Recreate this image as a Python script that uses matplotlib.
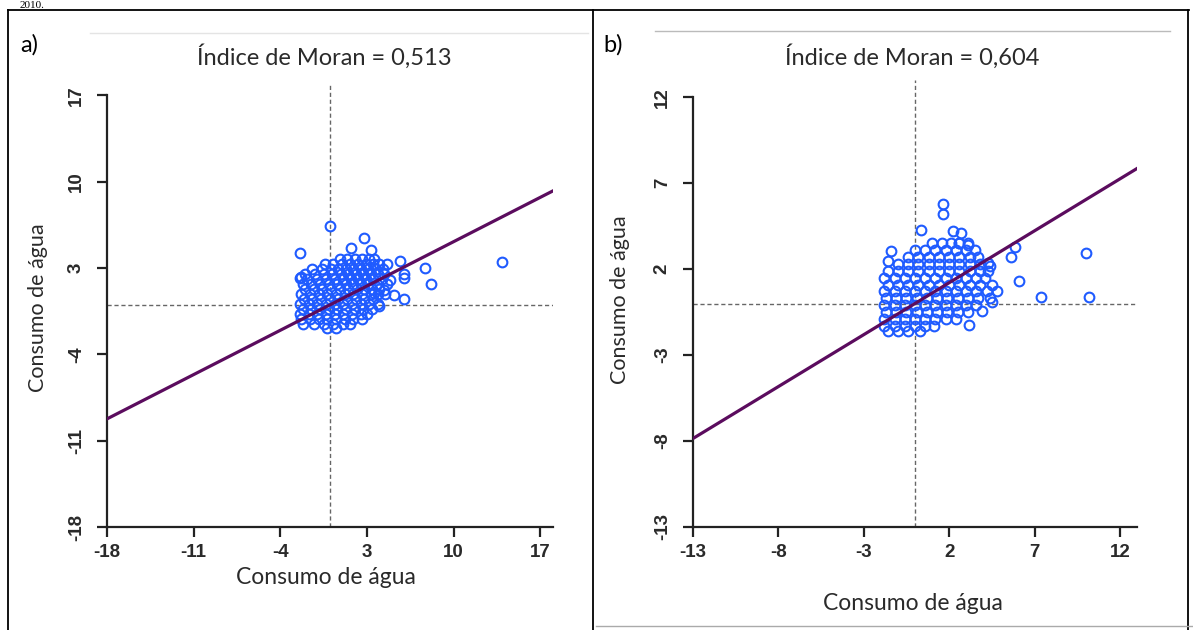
import matplotlib.pyplot as plt
from matplotlib.lines import Line2D

# índices de Moran
moran_a = 0.513
moran_b = 0.604

ticks_a = [-18, -11, -4, 3, 10, 17]
ticks_b = [-13, -8, -3, 2, 7, 12]

# painel a) - pontos lidos por linha (y, lista de x)
rows_a = [
    (3.7, [0.8, 1.4, 2.0, 2.6, 3.2, 3.6]),
    (3.3, [-0.4, 0.3, 1.0, 1.6, 2.3, 2.9, 3.5, 4.0, 4.6]),
    (2.9, [-1.4, -0.6, 0.1, 0.7, 1.3, 1.9, 2.5, 3.1, 3.7, 4.3]),
    (2.5, [-2.0, -1.2, -0.5, 0.2, 0.9, 1.5, 2.1, 2.7, 3.3, 3.9, 4.4]),
    (2.1, [-1.8, -1.0, -0.3, 0.4, 1.1, 1.7, 2.3, 2.9, 3.5, 4.2]),
    (1.7, [-2.2, -1.5, -0.8, -0.1, 0.6, 1.3, 1.9, 2.5, 3.1, 3.8, 4.6]),
    (1.3, [-2.0, -1.3, -0.6, 0.1, 0.8, 1.5, 2.2, 2.8, 3.4, 4.0]),
    (0.9, [-2.3, -1.6, -0.9, -0.2, 0.5, 1.2, 1.9, 2.6, 3.3, 3.9, 4.5]),
    (0.5, [-2.1, -1.4, -0.7, 0.0, 0.7, 1.4, 2.1, 2.8, 3.5]),
    (0.1, [-2.4, -1.7, -1.0, -0.3, 0.4, 1.1, 1.8, 2.5, 3.2, 3.9]),
    (-0.3, [-2.2, -1.5, -0.8, -0.1, 0.6, 1.3, 2.0, 2.7, 3.4]),
    (-0.7, [-2.4, -1.7, -1.0, -0.3, 0.4, 1.1, 1.8, 2.5, 3.0]),
    (-1.1, [-2.3, -1.6, -0.9, -0.2, 0.5, 1.2, 1.9, 2.6]),
    (-1.5, [-2.2, -1.3, -0.5, 0.3, 1.1, 1.6]),
    (-1.9, [-0.2, 0.5]),
]
extra_a_x = [0.05, -2.4, 1.7, 2.75, 3.3, 13.9, 7.7, 8.2, 5.7, 6.0, 6.0, 6.0, 5.2, 4.9, 4.4, 3.6, 4.0, -2.4, -2.35]
extra_a_y = [6.4, 4.25, 4.6, 5.4, 4.5, 3.5, 3.0, 1.7, 3.55, 2.5, 2.15, 0.5, 0.85, 2.0, 1.2, 0.95, -0.1, 2.2, 2.3]

# painel b)
rows_b = [
    (3.5, [1.0, 1.6, 2.1, 2.6, 3.1]),
    (3.1, [0.0, 0.6, 1.2, 1.8, 2.4, 3.0, 3.5]),
    (2.7, [-0.4, 0.2, 0.8, 1.4, 2.0, 2.6, 3.2, 3.7]),
    (2.3, [-1.0, -0.4, 0.2, 0.8, 1.4, 2.0, 2.6, 3.2, 3.8]),
    (1.9, [-1.6, -1.0, -0.4, 0.2, 0.8, 1.4, 2.0, 2.6, 3.2, 3.8, 4.3]),
    (1.5, [-1.8, -1.2, -0.6, 0.0, 0.6, 1.2, 1.8, 2.4, 3.0, 3.6, 4.1]),
    (1.1, [-1.6, -1.0, -0.4, 0.2, 0.8, 1.4, 2.0, 2.6, 3.2, 3.8, 4.5]),
    (0.7, [-1.8, -1.2, -0.6, 0.0, 0.6, 1.2, 1.8, 2.4, 3.0, 3.6, 4.2]),
    (0.3, [-1.7, -1.1, -0.5, 0.1, 0.7, 1.3, 1.9, 2.5, 3.1, 3.7, 4.4]),
    (-0.1, [-1.8, -1.2, -0.6, 0.0, 0.6, 1.2, 1.8, 2.4, 3.0, 3.6]),
    (-0.5, [-1.7, -1.1, -0.5, 0.1, 0.7, 1.3, 1.9, 2.5, 3.1]),
    (-0.9, [-1.8, -1.2, -0.6, 0.0, 0.6, 1.2, 1.8, 2.4]),
    (-1.3, [-1.8, -1.2, -0.6, 0.0, 0.6, 1.1]),
    (-1.6, [-1.6, -1.0, -0.4, 0.3]),
]
extra_b_x = [1.65, 1.65, 0.35, -1.4, -1.6, 2.2, 2.7, 2.6, 3.1, 5.85, 5.6, 10.0, 6.1, 7.4, 10.2, 3.15, 3.9, 4.5, 4.8, 4.4, 4.3]
extra_b_y = [5.8, 5.2, 4.3, 3.05, 2.47, 4.2, 4.1, 3.5, 3.4, 3.3, 2.7, 2.95, 1.3, 0.4, 0.4, -1.25, -0.44, 0.1, 0.72, 2.17, 2.35]

W, H = 1193, 630
fig = plt.figure(figsize=(W / 100, H / 100), dpi=100)

def fx(px):
    return px / W

def fy(py):
    return 1 - py / H

def hline(x0, x1, y, **kw):
    fig.add_artist(Line2D([fx(x0), fx(x1)], [fy(y), fy(y)], transform=fig.transFigure, **kw))

def vline(x, y0, y1, **kw):
    fig.add_artist(Line2D([fx(x), fx(x)], [fy(y0), fy(y1)], transform=fig.transFigure, **kw))

label_font = 'Lato'
tick_font = 'Liberation Sans'
pt_color = '#1f5bff'
line_color = '#5b0c5e'


def painel(rect, rows, ex, ey, moran, ticks, lim):
    ax = fig.add_axes([fx(rect[0]), fy(rect[3]), fx(rect[1] - rect[0]), (rect[3] - rect[2]) / H])
    xs = [x for y, r in rows for x in r] + ex
    ys = [y for y, r in rows for x in r] + ey
    ax.axvline(0, color='#666666', ls=(0, (3, 2)), lw=1.0, zorder=1)
    ax.axhline(0, color='#666666', ls=(0, (3, 2)), lw=1.0, zorder=1)
    ax.plot(xs, ys, 'o', mfc='none', mec=pt_color, ms=7, mew=1.5, zorder=2)
    ax.plot([lim[0], lim[1]], [moran * lim[0], moran * lim[1]], color=line_color, lw=2.3, zorder=3)
    ax.set_xlim(lim)
    ax.set_ylim(lim)
    ax.set_xticks(ticks)
    ax.set_yticks(ticks)
    ax.set_xticklabels([str(t) for t in ticks], family=tick_font, fontsize=13.5,
                       fontweight='bold', color='#2a2a2a')
    ax.set_yticklabels([str(t) for t in ticks], family=tick_font, fontsize=13.5,
                       fontweight='bold', color='#2a2a2a', rotation=90, va='center')
    for s in ['top', 'right']:
        ax.spines[s].set_visible(False)
    ax.spines['left'].set_bounds(ticks[0], ticks[-1])
    for s in ['left', 'bottom']:
        ax.spines[s].set_linewidth(1.6)
        ax.spines[s].set_color('#222222')
    ax.tick_params(length=7, width=1.6, color='#222222')
    ax.tick_params(axis='x', pad=5)
    ax.tick_params(axis='y', pad=9)
    ax.patch.set_alpha(0)
    return ax


painel((107, 552.5, 83, 527), rows_a, extra_a_x, extra_a_y, moran_a, ticks_a, (-18, 18))
painel((693, 1137, 80, 527), rows_b, extra_b_x, extra_b_y, moran_b, ticks_b, (-13, 13))

# textos
fig.text(fx(324), fy(57), 'Índice de Moran = 0,513', family=label_font, fontsize=17,
         color='#2a2a2a', ha='center', va='center')
fig.text(fx(912), fy(57), 'Índice de Moran = 0,604', family=label_font, fontsize=17,
         color='#2a2a2a', ha='center', va='center')
fig.text(fx(20), fy(45), 'a)', family=label_font, fontsize=17, color='black', ha='left', va='center')
fig.text(fx(603), fy(45), 'b)', family=label_font, fontsize=17, color='black', ha='left', va='center')
fig.text(fx(326), fy(577), 'Consumo de água', family=label_font, fontsize=16.5,
         color='#2a2a2a', ha='center', va='center')
fig.text(fx(913), fy(604), 'Consumo de água', family=label_font, fontsize=16.5,
         color='#2a2a2a', ha='center', va='center')
fig.text(fx(38), fy(308), 'Consumo de água', family=label_font, fontsize=15.5,
         color='#2a2a2a', ha='center', va='center', rotation=90)
fig.text(fx(620), fy(300), 'Consumo de água', family=label_font, fontsize=15.5,
         color='#2a2a2a', ha='center', va='center', rotation=90)
fig.text(fx(20), fy(0.5), '2010.', family='Liberation Serif', fontsize=8, color='black',
         ha='left', va='top')

# bordas da tabela
hline(8, 1189, 10, color='black', lw=1.3)
vline(8, 10, 630, color='black', lw=1.3)
vline(593, 10, 630, color='black', lw=1.3)
vline(1188, 10, 630, color='black', lw=1.3)
hline(596, 1193, 626, color='#aaaaaa', lw=1.0)
hline(90, 588, 33, color='#e4e4e4', lw=1.0)
hline(655, 1170, 31, color='#bbbbbb', lw=1.0)

fig.savefig('out.png', dpi=100)
